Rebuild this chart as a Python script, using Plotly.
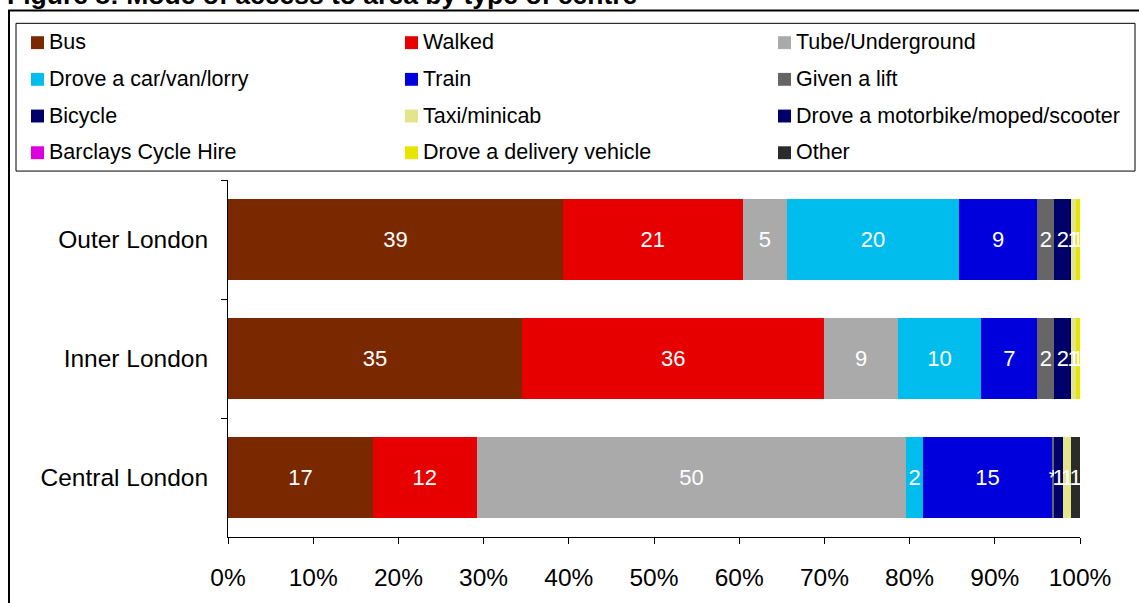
import plotly.graph_objects as go

# ---------------- data ----------------
categories = ["Outer London", "Inner London", "Central London"]
modes = ["Bus", "Walked", "Tube/Underground",
         "Drove a car/van/lorry", "Train", "Given a lift",
         "Bicycle", "Taxi/minicab", "Drove a motorbike/moped/scooter",
         "Barclays Cycle Hire", "Drove a delivery vehicle", "Other"]
bus = [39.3, 34.5, 17.0]
walked = [21.1, 35.5, 12.2]
tube = [5.2, 8.6, 50.4]
car = [20.2, 9.8, 2.0]
train = [9.2, 6.6, 15.1]
lift = [2.0, 2.0, 0.3]
bicycle = [2.0, 2.0, 1.0]
taxi = [0.5, 0.5, 1.0]
motorbike = [0.0, 0.0, 0.0]
barclays = [0.0, 0.0, 0.0]
delivery = [0.5, 0.5, 0.0]
other = [0.0, 0.0, 1.0]
series = [bus, walked, tube, car, train, lift, bicycle, taxi,
          motorbike, barclays, delivery, other]
colors = ["#7a2800", "#e60000", "#aaaaaa", "#00bdee", "#0000dc", "#666666",
          "#00006a", "#e4e48a", "#00006a", "#dd00dd", "#e6e600", "#2b2b2b"]
ticks = [0, 10, 20, 30, 40, 50, 60, 70, 80, 90, 100]
tick_text = [f"{t}%" for t in ticks]
title_text = "Figure 8: Mode of access to area by type of centre"

FONT = "Liberation Sans, Arial, sans-serif"

# body margin removed via post_script, so figure pixels == screen pixels
OFF = 0
W_FIG, H_FIG = 1139 - OFF, 603 - OFF
L, R, T, B = 228 - OFF, 1080 - OFF, 180 - OFF, 540 - OFF


def px(x):
    """screen x pixel -> paper"""
    return (x - OFF - L) / (R - L)


def py(y):
    """screen y pixel -> paper"""
    return (B - (y - OFF)) / (B - T)


def label(v):
    if v <= 0:
        return ""
    if v < 0.5:
        return "*"
    return str(int(v + 0.5))


fig = go.Figure()
for name, vals, col in zip(modes, series, colors):
    fig.add_trace(go.Bar(
        name=name, y=categories, x=vals, orientation="h",
        marker=dict(color=col, line=dict(width=0)),
        text=[label(v) for v in vals],
        textposition="inside", insidetextanchor="middle",
        textangle=0, constraintext="none",
        textfont=dict(color="white", size=22, family=FONT),
        showlegend=False, cliponaxis=False,
    ))

shapes = []
annotations = []

# outer frame
shapes.append(dict(type="rect", xref="paper", yref="paper",
                   x0=px(9), x1=px(1160), y0=py(620), y1=py(9),
                   line=dict(color="black", width=2), fillcolor="rgba(0,0,0,0)",
                   layer="below"))
# legend box
shapes.append(dict(type="rect", xref="paper", yref="paper",
                   x0=px(16), x1=px(1135), y0=py(171), y1=py(22),
                   line=dict(color="black", width=1), fillcolor="white",
                   layer="below"))

col_x = [31, 405, 778]
row_y = [41, 78, 115, 152]
for i, (name, col) in enumerate(zip(modes, colors)):
    r, c = divmod(i, 3)
    sx, sy = col_x[c], row_y[r]
    shapes.append(dict(type="rect", xref="paper", yref="paper",
                       x0=px(sx), x1=px(sx + 13), y0=py(sy + 7), y1=py(sy - 6),
                       line=dict(width=0), fillcolor=col))
    annotations.append(dict(xref="paper", yref="paper", x=px(sx + 16), y=py(sy),
                            xanchor="left", yanchor="middle", showarrow=False,
                            text=name, font=dict(size=21.5, color="black", family=FONT)))

annotations.append(dict(xref="paper", yref="paper", x=px(5), y=py(11),
                        xanchor="left", yanchor="bottom", showarrow=False,
                        text="<b>" + title_text + "</b>",
                        font=dict(size=26.5, color="black", family=FONT)))

fig.update_layout(
    barmode="stack", bargap=0.315,
    width=W_FIG, height=H_FIG,
    margin=dict(l=L, r=W_FIG - R, t=T, b=H_FIG - B, pad=0),
    plot_bgcolor="white", paper_bgcolor="white",
    font=dict(family=FONT, color="black"),
    shapes=shapes, annotations=annotations,
    showlegend=False,
)
fig.update_xaxes(range=[0, 100], tickvals=ticks, ticktext=tick_text,
                 showgrid=False, zeroline=False, showline=True,
                 linecolor="black", linewidth=1, ticks="outside", ticklen=6,
                 tickcolor="black", tickfont=dict(size=24.5, family=FONT),
                 ticklabelstandoff=13)
fig.update_yaxes(categoryorder="array", categoryarray=categories,
                 autorange="reversed", tickson="boundaries",
                 showgrid=False, zeroline=False, showline=True,
                 linecolor="black", linewidth=1, ticks="outside", ticklen=6,
                 tickcolor="black", tickfont=dict(size=24.5, family=FONT),
                 ticklabelstandoff=14)

fig.write_html("out.html",
               config={"displayModeBar": False},
               post_script="document.body.style.margin='0';document.body.style.overflow='hidden';")
